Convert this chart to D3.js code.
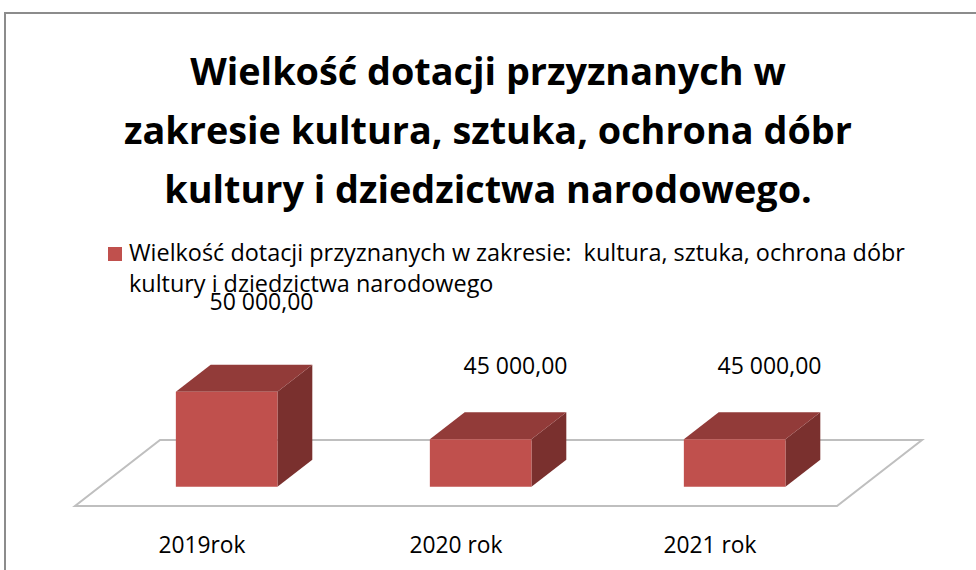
<!DOCTYPE html>
<html>
<head>
<meta charset="utf-8">
<script src="https://cdn.jsdelivr.net/npm/d3@7"></script>
<style>
  body { margin: 0; background: #fff; }
  text { font-family: "Open Sans", Lato, sans-serif; fill: #000; }
</style>
</head>
<body>
<div id="chart"></div>
<script>
// data
const categories = ["2019rok", "2020 rok", "2021 rok"];
const values = [50000, 45000, 45000];
const valueLabels = ["50 000,00", "45 000,00", "45 000,00"];
const titleLines = ["Wielkość dotacji przyznanych w", "zakresie kultura, sztuka, ochrona dóbr", "kultury i dziedzictwa narodowego."];
const legendLines = ["Wielkość dotacji przyznanych w zakresie:  kultura, sztuka, ochrona dóbr", "kultury i dziedzictwa narodowego"];

const width = 976, height = 570;

const svg = d3.select("#chart")
    .append("svg")
    .attr("width", width)
    .attr("height", height);

// shrink/grow a text selection so that one of its items gets the wanted width
function fitSize(sel, base, idx, target) {
    const n = sel.nodes()[idx];
    const w = n.getComputedTextLength();
    sel.style("font-size", (base * target / w) + "px");
}

// outer frame
svg.append("rect")
    .attr("x", 5).attr("y", 13)
    .attr("width", width + 20).attr("height", height + 20)
    .attr("fill", "#fff")
    .attr("stroke", "#8c8c8c")
    .attr("stroke-width", 2);

// title
const title = svg.append("g").selectAll("text")
    .data(titleLines)
    .enter()
    .append("text")
    .attr("x", 488)
    .attr("y", (d, i) => 85 + i * 59)
    .attr("text-anchor", "middle")
    .style("font-weight", "bold")
    .style("font-size", "40px")
    .text(d => d);
fitSize(title, 40, 1, 728);

// legend
svg.append("rect")
    .attr("x", 108).attr("y", 247)
    .attr("width", 14).attr("height", 14)
    .attr("fill", "#c0504d");
const legend = svg.append("g").selectAll("text")
    .data(legendLines)
    .enter()
    .append("text")
    .attr("x", 129)
    .attr("y", (d, i) => 261 + i * 31)
    .style("font-size", "21px")
    .style("white-space", "pre")
    .text(d => d);
fitSize(legend, 21, 0, 776);

// 3D frame: floor front line and depth offsets
const frontY = 506, depthX = 85, depthY = 66;
const x = d3.scaleBand()
    .domain(categories)
    .range([75, 837]);
const h = d3.scaleLinear()
    .domain([40000, 50000])
    .range([0, 95]);

const proj = (u, d, hh) => [u + depthX * d, frontY - depthY * d - hh];

// floor
const floor = [proj(75, 0, 0), proj(837, 0, 0), proj(837, 1, 0), proj(75, 1, 0)];
svg.append("polygon")
    .attr("points", floor.map(p => p.join(",")).join(" "))
    .attr("fill", "#fff")
    .attr("stroke", "#bfbfbf")
    .attr("stroke-width", 2);

// bars
const barW = x.bandwidth() * 0.4;
const d0 = 0.29, d1 = 0.70;

const bars = svg.append("g").selectAll("g")
    .data(values)
    .enter()
    .append("g");

bars.each(function (v, i) {
    const g = d3.select(this);
    const x0 = x(categories[i]) + (x.bandwidth() - barW) / 2;
    const x1 = x0 + barW;
    const hh = h(v);
    const faces = [
        { pts: [proj(x1, d0, 0), proj(x1, d1, 0), proj(x1, d1, hh), proj(x1, d0, hh)], fill: "#7a302e" },
        { pts: [proj(x0, d0, hh), proj(x1, d0, hh), proj(x1, d1, hh), proj(x0, d1, hh)], fill: "#923b39" },
        { pts: [proj(x0, d0, 0), proj(x1, d0, 0), proj(x1, d0, hh), proj(x0, d0, hh)], fill: "#c0504d" }
    ];
    g.selectAll("polygon")
        .data(faces)
        .enter()
        .append("polygon")
        .attr("points", f => f.pts.map(p => p.join(",")).join(" "))
        .attr("fill", f => f.fill);

    // value label above the back of the bar
    const top = proj(x0 + barW / 2, d1, hh);
    g.append("text")
        .attr("class", "vlabel")
        .attr("x", top[0])
        .attr("y", top[1] - 23 - hh * 0.33)
        .attr("text-anchor", "middle")
        .style("font-size", "21px")
        .text(valueLabels[i]);
});
fitSize(svg.selectAll(".vlabel"), 21, 0, 104);

// category labels
const cats = svg.append("g").selectAll("text")
    .data(categories)
    .enter()
    .append("text")
    .attr("x", d => x(d) + x.bandwidth() / 2)
    .attr("y", 553)
    .attr("text-anchor", "middle")
    .style("font-size", "21px")
    .text(d => d);
fitSize(cats, 21, 1, 93);
</script>
</body>
</html>
